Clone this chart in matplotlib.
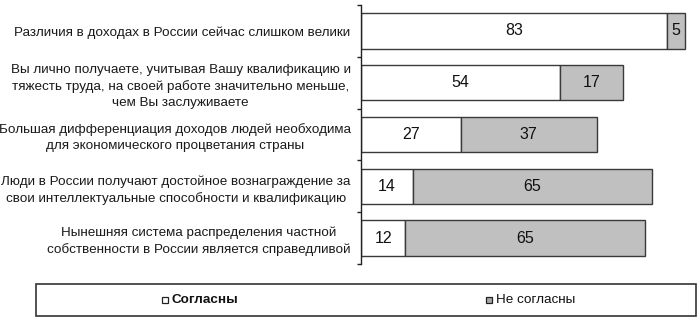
import matplotlib
matplotlib.use("Agg")
import matplotlib.pyplot as plt
from matplotlib.patches import Rectangle

plt.rcParams['font.family'] = ['Liberation Sans', 'DejaVu Sans']

categories = [
    "Различия в доходах в России сейчас слишком велики",
    "Вы лично получаете, учитывая Вашу квалификацию и\nтяжесть труда, на своей работе значительно меньше,\nчем Вы заслуживаете",
    "Большая дифференциация доходов людей необходима\nдля экономического процветания страны",
    "Люди в России получают достойное вознаграждение за\nсвои интеллектуальные способности и квалификацию",
    "Нынешняя система распределения частной\nсобственности в России является справедливой",
]
agree = [83, 54, 27, 14, 12]
disagree = [5, 17, 37, 65, 65]
series_names = ["Согласны", "Не согласны"]

W, H = 700, 322
fig = plt.figure(figsize=(W / 100, H / 100), dpi=100)
ax_left, ax_right = 361, 690
ax_top, ax_bot = 5, 264
ax = fig.add_axes([ax_left / W, (H - ax_bot) / H, (ax_right - ax_left) / W, (ax_bot - ax_top) / H])

px_per_unit = 306 / 83.0
ax.set_xlim(0, (ax_right - ax_left) / px_per_unit)
ax.set_ylim(len(categories) - 0.5, -0.5)

y = list(range(len(categories)))
edge = '#3a3a3a'
ax.barh(y, agree, height=0.68, color='white', edgecolor=edge, linewidth=1.0)
ax.barh(y, disagree, left=agree, height=0.68, color='#c0c0c0', edgecolor=edge, linewidth=1.0)

for i in y:
    ax.text(agree[i] / 2, i, str(agree[i]), ha='center', va='center', fontsize=11.5, color='#111111')
    ax.text(agree[i] + disagree[i] / 2, i, str(disagree[i]), ha='center', va='center', fontsize=11.5, color='#111111')

for s in ['top', 'right', 'bottom']:
    ax.spines[s].set_visible(False)
ax.spines['left'].set_color('#222222')
ax.spines['left'].set_linewidth(1.0)
ax.set_xticks([])
ax.set_yticks(y)
ax.set_yticklabels(categories, fontsize=9.7, color='#1a1a1a', multialignment='center', linespacing=1.42)
ax.tick_params(axis='y', which='major', length=0, pad=7.5)
ax.set_yticks([i - 0.5 for i in range(len(categories) + 1)], minor=True)
ax.tick_params(axis='y', which='minor', length=3, width=1.0, color='#222222', direction='out')

# legend box
lx0, lx1, ly0, ly1 = 36, 696, 284, 316
fig.patches.append(Rectangle((lx0 / W, (H - ly1) / H), (lx1 - lx0) / W, (ly1 - ly0) / H,
                             transform=fig.transFigure, facecolor='white', edgecolor='#333333', linewidth=1.2))
ly = (H - 300) / H
for mx, tx, fc, name, bold in [(162, 172, 'white', series_names[0], 'bold'),
                                (486, 496, '#a8a8a8', series_names[1], 'normal')]:
    fig.patches.append(Rectangle((mx / W, (H - 303) / H), 6 / W, 6 / H, transform=fig.transFigure,
                                 facecolor=fc, edgecolor='#222222', linewidth=0.9))
    fig.text(tx / W, ly, name, ha='left', va='center', fontsize=9.7, fontweight=bold, color='#111111')

fig.savefig('out.png', dpi=100)
